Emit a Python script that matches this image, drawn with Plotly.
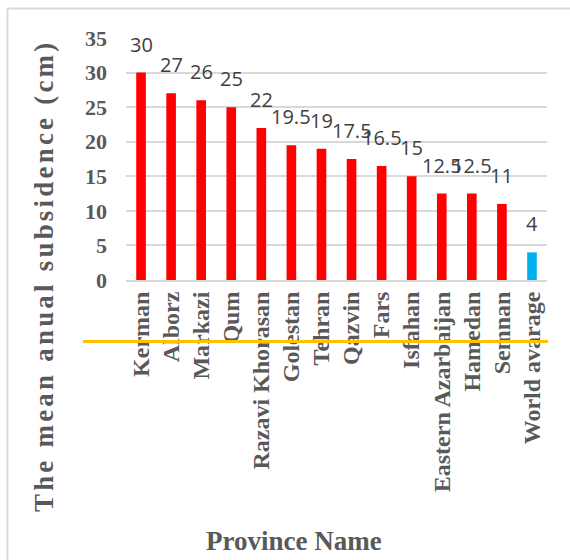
import plotly.graph_objects as go

# Mean annual land subsidence by province
provinces = ["Kerman", "Alborz", "Markazi", "Qum", "Razavi Khorasan", "Golestan",
             "Tehran", "Qazvin", "Fars", "Isfahan", "Eastern Azarbaijan", "Hamedan",
             "Semnan", "World avarage"]
subsidence_cm = [30, 27, 26, 25, 22, 19.5, 19, 17.5, 16.5, 15, 12.5, 12.5, 11, 4]
bar_colors = ["#FF0000"] * 13 + ["#00B0F0"]
y_ticks = [0, 5, 10, 15, 20, 25, 30, 35]

axis_grey = "#595959"
serif = "Liberation Serif, Times New Roman, serif"
y_title = "The mean anual subsidence (cm)"

fig = go.Figure()
fig.add_trace(go.Bar(
    x=provinces,
    y=subsidence_cm,
    marker=dict(color=bar_colors, line=dict(width=0)),
    hoverinfo="x+y",
))

# value labels above each bar
for name, val in zip(provinces, subsidence_cm):
    fig.add_annotation(
        x=name, y=val, text=f"{val:g}", showarrow=False,
        yanchor="bottom", yshift=13,
        font=dict(family="Open Sans, sans-serif", size=20, color="#404040"),
    )

fig.update_layout(
    width=570, height=560,
    margin=dict(l=126, r=23, t=38, b=280),
    paper_bgcolor="white", plot_bgcolor="white",
    bargap=0.68,
    showlegend=False,
    xaxis=dict(
        tickangle=-90,
        tickfont=dict(family=serif, size=24, color=axis_grey, weight="bold"),
        showline=True, linecolor="#D9D9D9", linewidth=2,
        showgrid=False, ticks="",
    ),
    yaxis=dict(
        range=[0, 35], tickvals=y_ticks,
        tickfont=dict(family=serif, size=22, color=axis_grey, weight="bold"),
        showgrid=True, gridcolor="#D9D9D9", gridwidth=2,
        zeroline=False, showline=False, ticks="",
        ticklabelstandoff=18,
    ),
)

# axis titles
fig.add_annotation(
    xref="paper", yref="paper", x=0.398, y=-1.08, text="<b>Province Name</b>",
    showarrow=False, xanchor="center", yanchor="middle",
    font=dict(family=serif, size=27, color=axis_grey),
)
fig.add_annotation(
    xref="paper", yref="paper", x=-0.195, y=0.02, text=f"<b>{y_title}</b>",
    showarrow=False, textangle=-90, xanchor="center", yanchor="middle",
    font=dict(family=serif, size=27, color=axis_grey),
)

# horizontal accent line across the category labels
fig.add_shape(type="line", xref="paper", yref="paper",
              x0=-0.102, x1=1.002, y0=-0.254, y1=-0.254,
              line=dict(color="#FFC000", width=3))

# chart frame
fig.add_shape(type="line", xref="paper", yref="paper",
              x0=-0.2815, x1=1.2, y0=1.122, y1=1.122,
              line=dict(color="#D9D9D9", width=2))
fig.add_shape(type="line", xref="paper", yref="paper",
              x0=-0.2815, x1=-0.2815, y0=1.122, y1=-1.4,
              line=dict(color="#D9D9D9", width=2))

# widen the letter spacing of the vertical axis title
spacing_js = """
var gd = document.getElementById('{plot_id}');
gd.querySelectorAll('.annotation-text').forEach(function (t) {
  if (t.textContent.indexOf('The mean') === 0) { t.style.letterSpacing = '3.2px'; }
});
"""

fig.write_html("out.html", post_script=spacing_js)
